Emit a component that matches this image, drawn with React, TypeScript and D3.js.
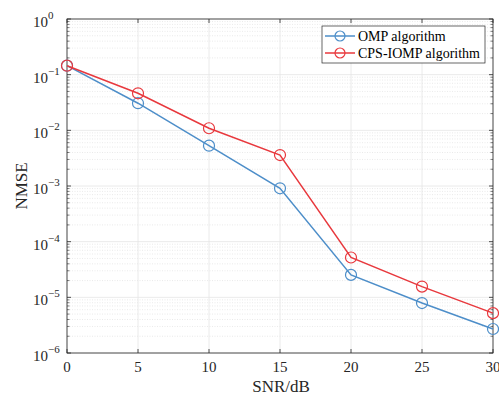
import React from "react";
import * as d3 from "d3";

const snr = [0, 5, 10, 15, 20, 25, 30];
const ompValues = [0.145, 0.0307, 0.0053, 0.00091, 2.53e-5, 7.9e-6, 2.7e-6];
const cpsValues = [0.145, 0.0463, 0.0109, 0.0036, 5.2e-5, 1.56e-5, 5.2e-6];
const xTicks = [0, 5, 10, 15, 20, 25, 30];
const yExponents = [0, -1, -2, -3, -4, -5, -6];
const seriesNames = ["OMP algorithm", "CPS-IOMP algorithm"];
const colors = ["#4d8ec9", "#e8383d"];

const W = 499, H = 396;
const L = 67, R = 493, T = 19, B = 353;
const FONT = "'Liberation Serif', 'Times New Roman', serif";

export default function App() {
  const x = d3.scaleLinear().domain([0, 30]).range([L, R]);
  const y = d3.scaleLog().domain([1e-6, 1]).range([B, T]);
  const line = d3.line<number>().x((_, i) => x(snr[i])).y((d) => y(d));

  const minors: number[] = [];
  for (let e = -6; e < 0; e++) for (let m = 2; m <= 9; m++) minors.push(m * Math.pow(10, e));

  const series = [ompValues, cpsValues];

  return (
    <div style={{ position: "absolute", left: 0, top: 0 }}>
      <svg width={W} height={H} style={{ display: "block", background: "#fff" }}>
        {/* grids */}
        {minors.map((v, i) => (
          <line key={"mg" + i} x1={L} x2={R} y1={y(v)} y2={y(v)} stroke="#dcdcdc" strokeWidth={0.6} strokeDasharray="1,1.5" />
        ))}
        {yExponents.map((e) => (
          <line key={"yg" + e} x1={L} x2={R} y1={y(Math.pow(10, e))} y2={y(Math.pow(10, e))} stroke="#e4e4e4" strokeWidth={0.8} />
        ))}
        {xTicks.map((t) => (
          <line key={"xg" + t} x1={x(t)} x2={x(t)} y1={T} y2={B} stroke="#e4e4e4" strokeWidth={0.8} />
        ))}
        {/* box */}
        <rect x={L} y={T} width={R - L} height={B - T} fill="none" stroke="#262626" strokeWidth={0.8} />
        {/* ticks */}
        {xTicks.map((t) => (
          <g key={"xt" + t}>
            <line x1={x(t)} x2={x(t)} y1={B} y2={B - 4} stroke="#262626" strokeWidth={0.8} />
            <line x1={x(t)} x2={x(t)} y1={T} y2={T + 4} stroke="#262626" strokeWidth={0.8} />
            <text x={x(t)} y={B + 19} textAnchor="middle" fontFamily={FONT} fontSize={15} fill="#262626">{t}</text>
          </g>
        ))}
        {yExponents.map((e) => {
          const yy = y(Math.pow(10, e));
          return (
            <g key={"yt" + e}>
              <line x1={L} x2={L + 4} y1={yy} y2={yy} stroke="#262626" strokeWidth={0.8} />
              <line x1={R} x2={R - 4} y1={yy} y2={yy} stroke="#262626" strokeWidth={0.8} />
              <text x={48} y={yy + 8} textAnchor="end" fontFamily={FONT} fontSize={15} fill="#262626">10</text>
              <text x={48} y={yy} textAnchor="start" fontFamily={FONT} fontSize={11} fill="#262626">{e === 0 ? "0" : "\u2212" + Math.abs(e)}</text>
            </g>
          );
        })}
        {minors.map((v, i) => (
          <g key={"mt" + i}>
            <line x1={L} x2={L + 2.5} y1={y(v)} y2={y(v)} stroke="#262626" strokeWidth={0.6} />
            <line x1={R} x2={R - 2.5} y1={y(v)} y2={y(v)} stroke="#262626" strokeWidth={0.6} />
          </g>
        ))}
        {/* series */}
        {series.map((vals, si) => (
          <g key={"s" + si}>
            <path d={line(vals) || ""} fill="none" stroke={colors[si]} strokeWidth={1.5} />
            {vals.map((v, i) => (
              <circle key={i} cx={x(snr[i])} cy={y(v)} r={5.5} fill="none" stroke={colors[si]} strokeWidth={1.2} />
            ))}
          </g>
        ))}
        {/* axis labels */}
        <text x={281} y={392} textAnchor="middle" fontFamily={FONT} fontSize={17} fill="#262626">SNR/dB</text>
        <text transform={`translate(27,${(T + B) / 2}) rotate(-90)`} textAnchor="middle" fontFamily={FONT} fontSize={17} fill="#262626">NMSE</text>
        {/* legend */}
        <rect x={322} y={26} width={163} height={37} fill="#fff" stroke="#262626" strokeWidth={0.7} />
        {seriesNames.map((n, i) => {
          const ly = 36 + i * 17;
          return (
            <g key={"lg" + i}>
              <line x1={325} x2={355} y1={ly} y2={ly} stroke={colors[i]} strokeWidth={1.5} />
              <circle cx={340} cy={ly} r={5} fill="none" stroke={colors[i]} strokeWidth={1.2} />
              <text x={358} y={ly + 5} fontFamily={FONT} fontSize={14} fill="#000">{n}</text>
            </g>
          );
        })}
      </svg>
    </div>
  );
}
